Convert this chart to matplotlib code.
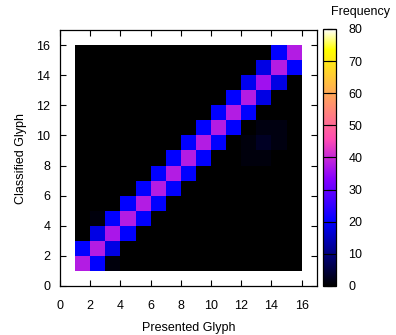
import numpy as np
import matplotlib

matplotlib.use("Agg")
import matplotlib.pyplot as plt
from matplotlib.colors import ListedColormap

plt.rcParams["font.family"] = ["Liberation Sans", "DejaVu Sans"]

# 15x15 cells, cell k spans glyph k+1 .. k+2 on each axis
N_CELLS = 15
diag_vals = [38, 38, 37, 38, 38, 38, 38, 38, 38, 38, 38, 38, 36, 38, 38]
# cell right of the diagonal (presented = classified + 1)
upper_vals = [20, 18, 20, 20, 20, 20, 20, 20, 20, 20, 20, 18, 18, 20]
# cell above the diagonal (classified = presented + 1)
lower_vals = [20, 18, 20, 20, 20, 20, 20, 20, 20, 20, 20, 19, 18, 20]
# faint off-band cells: (presented cell, classified cell, value)
extra_px = [2, 1, 12, 13, 11, 12, 13, 11, 12]
extra_cy = [0, 3, 9, 9, 8, 8, 8, 7, 7]
extra_val = [1, 1, 1.5, 1.5, 1, 3, 1.5, 1, 1]

Z = np.zeros((N_CELLS, N_CELLS))
for i, v in enumerate(diag_vals):
    Z[i, i] = v
for i, v in enumerate(upper_vals):
    Z[i, i + 1] = v
for i, v in enumerate(lower_vals):
    Z[i + 1, i] = v
for c, r, v in zip(extra_px, extra_cy, extra_val):
    Z[r, c] = v

# gnuplot rgbformulae 30,31,32 (black-blue-violet-yellow-white)
t = np.linspace(0, 1, 256)
r = np.clip(t / 0.32 - 0.78125, 0, 1)
g = np.clip(2 * t - 0.84, 0, 1)
b = np.where(t < 0.25, 4 * t,
             np.where(t < 0.42, 1.0,
                      np.where(t < 0.92, -2 * t + 1.84, t / 0.08 - 11.5)))
b = np.clip(b, 0, 1)
cmap = ListedColormap(np.column_stack([r, g, b]))

fig = plt.figure(figsize=(3.96, 3.35), dpi=100)
ax = fig.add_axes([60 / 396, 49 / 335, 256.7 / 396, 256 / 335])
edges = np.arange(1, N_CELLS + 2)
mesh = ax.pcolormesh(edges, edges, Z, cmap=cmap, vmin=0, vmax=80)

ax.set_xlim(0, 17)
ax.set_ylim(0, 17)
ax.set_xticks(range(0, 17, 2))
ax.set_yticks(range(0, 17, 2))
ax.tick_params(direction="in", length=4, width=0.8, top=True, right=True,
               labelsize=9, pad=7)
ax.tick_params(axis="x", pad=10)
ax.set_xlabel("Presented Glyph", fontsize=9, labelpad=7)
ax.set_ylabel("Classified Glyph", fontsize=9, labelpad=7)
for s in ax.spines.values():
    s.set_linewidth(0.9)

cax = fig.add_axes([323.3 / 396, 49 / 335, 12.7 / 396, 257 / 335])
cb = fig.colorbar(mesh, cax=cax)
cb.set_ticks(range(0, 81, 10))
cax.tick_params(direction="in", length=6.5, width=0.8, left=True, right=True,
                labelsize=9, pad=9)
cb.outline.set_linewidth(0.9)
fig.text(360 / 396, 1 - 12 / 335, "Frequency", fontsize=9,
         ha="center", va="center")

fig.savefig("out.png", dpi=100)
